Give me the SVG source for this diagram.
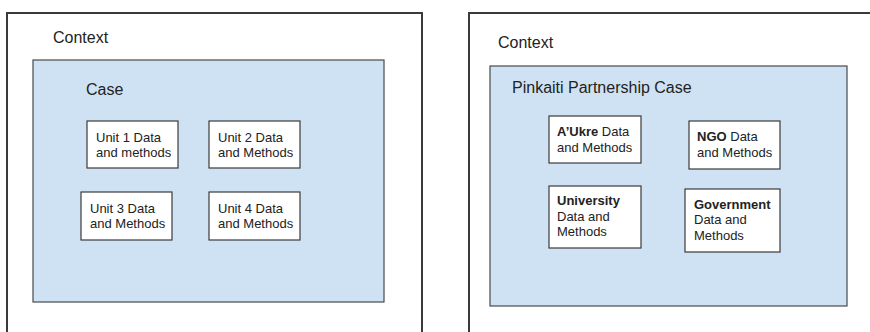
<svg xmlns="http://www.w3.org/2000/svg" width="870" height="332" viewBox="0 0 870 332">
  <style>
    .context { fill: #ffffff; stroke: #3a3a3a; stroke-width: 2; }
    .case { fill: #cfe2f3; stroke: #4a4a4a; stroke-width: 1.2; }
    .unit { fill: #ffffff; stroke: #3a3a3a; stroke-width: 1.2; }
    text { font-family: "Liberation Sans", Arial, sans-serif; fill: #222222; }
    .title { font-size: 16px; }
    .label { font-size: 13px; }
    .b { font-weight: bold; }
  </style>
  <rect width="870" height="332" fill="#ffffff"/>

  <!-- Left panel: generic case study -->
  <g id="left-context">
    <rect class="context" x="7" y="13" width="415" height="330"/>
    <text class="title" x="53" y="43">Context</text>
  </g>
  <g id="left-case">
    <rect class="case" x="33" y="60" width="351" height="242"/>
    <text class="title" x="86" y="95">Case</text>
  </g>
  <g id="unit1">
    <rect class="unit" x="87" y="121" width="91" height="47"/>
    <text class="label" x="96" y="141.5">Unit 1 Data</text>
    <text class="label" x="96" y="157">and methods</text>
  </g>
  <g id="unit2">
    <rect class="unit" x="209" y="121" width="91" height="47"/>
    <text class="label" x="218" y="141.5">Unit 2 Data</text>
    <text class="label" x="218" y="157">and Methods</text>
  </g>
  <g id="unit3">
    <rect class="unit" x="81" y="192" width="91" height="48"/>
    <text class="label" x="90" y="213">Unit 3 Data</text>
    <text class="label" x="90" y="228">and Methods</text>
  </g>
  <g id="unit4">
    <rect class="unit" x="209" y="192" width="91" height="48"/>
    <text class="label" x="218" y="213">Unit 4 Data</text>
    <text class="label" x="218" y="228">and Methods</text>
  </g>

  <!-- Right panel: Pinkaiti partnership -->
  <g id="right-context">
    <rect class="context" x="469" y="13" width="420" height="330"/>
    <text class="title" x="498" y="48">Context</text>
  </g>
  <g id="right-case">
    <rect class="case" x="490" y="66" width="357" height="240"/>
    <text class="title" x="512" y="93">Pinkaiti Partnership Case</text>
  </g>
  <g id="aukre">
    <rect class="unit" x="549" y="116" width="92" height="47"/>
    <text class="label" x="557" y="136"><tspan class="b">A’Ukre</tspan> Data</text>
    <text class="label" x="557" y="151.5">and Methods</text>
  </g>
  <g id="ngo">
    <rect class="unit" x="689" y="121" width="91" height="48"/>
    <text class="label" x="697" y="141"><tspan class="b">NGO</tspan> Data</text>
    <text class="label" x="697" y="156.5">and Methods</text>
  </g>
  <g id="university">
    <rect class="unit" x="549" y="186" width="92" height="62"/>
    <text class="label b" x="557" y="205">University</text>
    <text class="label" x="557" y="220.5">Data and</text>
    <text class="label" x="557" y="236">Methods</text>
  </g>
  <g id="government">
    <rect class="unit" x="685" y="189" width="95" height="63"/>
    <text class="label b" x="694" y="208.5">Government</text>
    <text class="label" x="694" y="224">Data and</text>
    <text class="label" x="694" y="239.5">Methods</text>
  </g>

  <g id="connectors"></g>
</svg>
